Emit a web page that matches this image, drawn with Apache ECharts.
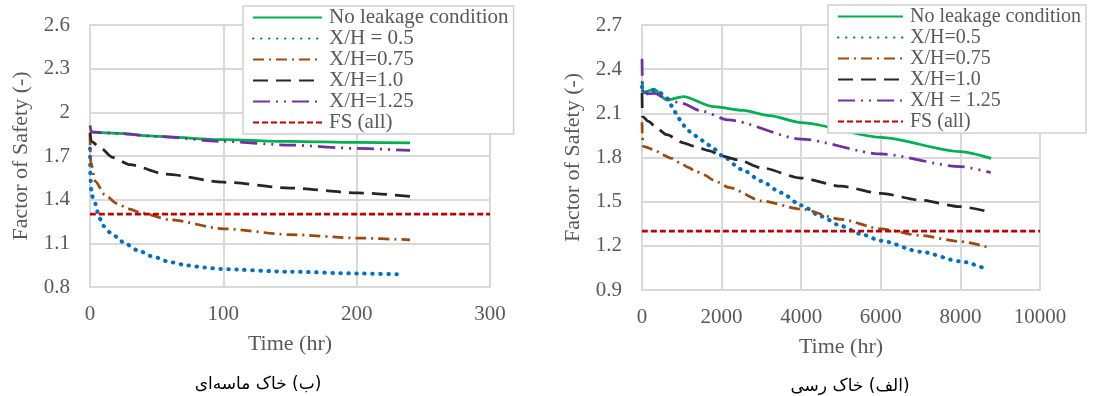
<!DOCTYPE html>
<html>
<head>
<meta charset="utf-8">
<script src="https://cdn.jsdelivr.net/npm/echarts@6/dist/echarts.min.js"></script>
<style>
  html, body { margin: 0; padding: 0; background: #fff; }
  #chart-container { width: 1118px; height: 396px; }
</style>
</head>
<body>
<div id="chart-container"></div>
<script>
var dom = document.getElementById('chart-container');
var myChart = echarts.init(dom, null, { renderer: 'canvas' });

// ---- sandy soil (left), time in hours ----
const sandNoneT = [0, 20, 50, 100, 150, 200, 240];
const sandNoneV = [1.865, 1.855, 1.835, 1.812, 1.80, 1.793, 1.79];
const sand05T = [0, 0.3, 1.2, 3.7, 5, 7, 10, 15, 20, 25, 36, 48, 60, 73, 86, 98, 150, 200, 235];
const sand05V = [1.75, 1.55, 1.43, 1.385, 1.33, 1.275, 1.22, 1.175, 1.145, 1.106, 1.051, 1.006, 0.971, 0.948, 0.934, 0.923, 0.905, 0.893, 0.886];
const sand075T = [0, 0.5, 4, 11, 20, 29, 39, 60, 100, 150, 200, 240];
const sand075V = [1.85, 1.66, 1.525, 1.435, 1.375, 1.337, 1.308, 1.262, 1.2, 1.16, 1.136, 1.124];
const sand10T = [0, 1, 8, 17, 30, 57, 100, 150, 200, 240];
const sand10V = [1.86, 1.80, 1.755, 1.69, 1.64, 1.575, 1.52, 1.48, 1.447, 1.423];
const sand125T = [0, 1, 20, 50, 100, 150, 200, 240];
const sand125V = [1.91, 1.865, 1.855, 1.835, 1.80, 1.775, 1.752, 1.738];
const sandFST = [0, 300];
const sandFSV = [1.3, 1.3];

// ---- clay soil (right) ----
const clayNoneT = [0, 30, 300, 620, 1040, 1800, 2550, 3200, 4000, 6000, 8000, 8770];
const clayNoneV = [2.32, 2.24, 2.265, 2.19, 2.213, 2.145, 2.12, 2.085, 2.037, 1.937, 1.84, 1.794];
const clay05T = [0, 60, 240, 450, 640, 750, 860, 960, 1080, 1230, 1420, 1580, 1750, 2000, 2500, 3000, 3500, 4000, 4500, 5000, 5500, 6000, 7000, 8000, 8580];
const clay05V = [2.28, 2.24, 2.258, 2.24, 2.2, 2.15, 2.1, 2.055, 2.01, 1.97, 1.935, 1.903, 1.872, 1.815, 1.72, 1.64, 1.56, 1.475, 1.40, 1.335, 1.28, 1.235, 1.16, 1.095, 1.05];
const clay075T = [0, 10, 30, 330, 520, 750, 950, 1160, 1370, 1580, 1780, 2200, 3000, 4000, 5000, 6000, 7000, 8000, 8780];
const clay075V = [2.04, 1.94, 1.875, 1.85, 1.817, 1.794, 1.765, 1.733, 1.703, 1.68, 1.648, 1.595, 1.505, 1.45, 1.38, 1.315, 1.27, 1.229, 1.183];
const clay10T = [0, 10, 160, 410, 620, 1040, 1300, 1700, 2000, 2400, 3000, 4000, 5000, 6000, 7000, 8000, 8710];
const clay10V = [2.24, 2.08, 2.045, 1.99, 1.955, 1.9, 1.877, 1.845, 1.81, 1.785, 1.73, 1.66, 1.605, 1.556, 1.51, 1.466, 1.432];
const clay125T = [0, 15, 330, 580, 1000, 1500, 2170, 4000, 6000, 8000, 8760];
const clay125V = [2.47, 2.23, 2.236, 2.20, 2.168, 2.115, 2.055, 1.925, 1.824, 1.738, 1.697];
const clayFST = [0, 10000];
const clayFSV = [1.3, 1.3];

const legendLeft = ['No leakage condition', 'X/H = 0.5', 'X/H=0.75', 'X/H=1.0', 'X/H=1.25', 'FS (all)'];
const legendRight = ['No leakage condition', 'X/H=0.5', 'X/H=0.75', 'X/H=1.0', 'X/H = 1.25', 'FS (all)'];

const captionLeft = '\u200F(ب) خاک ماسه‌ای\u200F';
const captionRight = '\u200F(الف) خاک رسی\u200F';

const FONT = 'Liberation Serif';
const TXT = '#595959';
const GRID = '#d9d9d9';

function zip(t, v) {
    return t.map(function (x, i) { return [x, v[i]]; });
}

const styles = [
    { color: '#00b050', type: 'solid', width: 2.75 },
    { color: '#0070c0', type: [0.5, 7.5], width: 4, cap: 'round' },
    { color: '#9c4a12', type: [11, 5, 2, 5], width: 2.75 },
    { color: '#262626', type: [15, 8], width: 2.75 },
    { color: '#7030a0', type: [17, 6, 2, 6, 2, 6], width: 2.75 },
    { color: '#c00000', type: [6, 3], width: 2.75 }
];

function makeSeries(name, t, v, st, idx) {
    return {
        name: name,
        type: 'line',
        xAxisIndex: idx,
        yAxisIndex: idx,
        data: zip(t, v),
        showSymbol: false,
        symbol: 'none',
        smooth: 0.25,
        smoothMonotone: 'x',
        color: st.color,
        lineStyle: st,
        animation: false
    };
}

const sandSets = [[sandNoneT, sandNoneV], [sand05T, sand05V], [sand075T, sand075V], [sand10T, sand10V], [sand125T, sand125V], [sandFST, sandFSV]];
const claySets = [[clayNoneT, clayNoneV], [clay05T, clay05V], [clay075T, clay075V], [clay10T, clay10V], [clay125T, clay125V], [clayFST, clayFSV]];

let series = [];
sandSets.forEach(function (s, i) { series.push(makeSeries(legendLeft[i], s[0], s[1], styles[i], 0)); });
claySets.forEach(function (s, i) { series.push(makeSeries(legendRight[i], s[0], s[1], styles[i], 1)); });

function xAxisOf(idx, max, interval) {
    return {
        type: 'value', gridIndex: idx, min: 0, max: max, interval: interval,
        name: 'Time (hr)', nameLocation: 'middle', nameGap: 46,
        nameTextStyle: { fontFamily: FONT, fontSize: 22, color: TXT },
        axisLine: { show: true, lineStyle: { color: GRID, width: 2 } },
        axisTick: { show: false },
        axisLabel: {
            fontFamily: FONT, fontSize: 21, color: TXT, margin: 17,
            formatter: function (v) { return String(v); }
        },
        splitLine: { show: true, lineStyle: { color: GRID, width: 2 } }
    };
}

function yAxisOf(idx, min, max) {
    return {
        type: 'value', gridIndex: idx, min: min, max: max, interval: 0.3,
        name: 'Factor of Safety (-)', nameLocation: 'middle', nameGap: 58,
        nameTextStyle: { fontFamily: FONT, fontSize: 22, color: TXT },
        axisLine: { show: true, lineStyle: { color: GRID, width: 2 } },
        axisTick: { show: false },
        axisLabel: {
            fontFamily: FONT, fontSize: 21, color: TXT, margin: 20,
            formatter: function (v) { return String(+v.toFixed(1)); }
        },
        splitLine: { show: true, lineStyle: { color: GRID, width: 2 } }
    };
}

function legendOf(data, left, top, iconW, fontSize, rowH) {
    return {
        data: data, orient: 'vertical', left: left, top: top,
        backgroundColor: '#fff', borderColor: '#d0d0d0', borderWidth: 1.5,
        padding: [1, 5, 1, 9],
        itemWidth: iconW, itemHeight: 14, itemGap: 0,
        itemStyle: { opacity: 0 },
        textStyle: { fontFamily: FONT, fontSize: fontSize, color: TXT, lineHeight: rowH, padding: [0, 0, 0, 2] },
        selectedMode: false
    };
}

var option = {
    backgroundColor: '#fff',
    animation: false,
    title: [
        { text: captionLeft, left: 253, top: 371, textAlign: 'center',
          textStyle: { fontFamily: 'DejaVu Sans', fontSize: 17, fontWeight: 'normal', color: '#000' } },
        { text: captionRight, left: 845, top: 373, textAlign: 'center',
          textStyle: { fontFamily: 'DejaVu Sans', fontSize: 17, fontWeight: 'normal', color: '#000' } }
    ],
    grid: [
        { left: 90, top: 25, width: 400, height: 262, outerBoundsMode: 'none' },
        { left: 642, top: 25, width: 398, height: 265, outerBoundsMode: 'none' }
    ],
    xAxis: [xAxisOf(0, 300, 100), xAxisOf(1, 10000, 2000)],
    yAxis: [yAxisOf(0, 0.8, 2.6), yAxisOf(1, 0.9, 2.7)],
    legend: [
        legendOf(legendLeft, 243, 6, 69, 21, 21),
        legendOf(legendRight, 828, 5, 65, 20, 21)
    ],
    series: series
};

if (option && typeof option === 'object') {
    myChart.setOption(option);
}

window.addEventListener('resize', myChart.resize);
</script>
</body>
</html>
